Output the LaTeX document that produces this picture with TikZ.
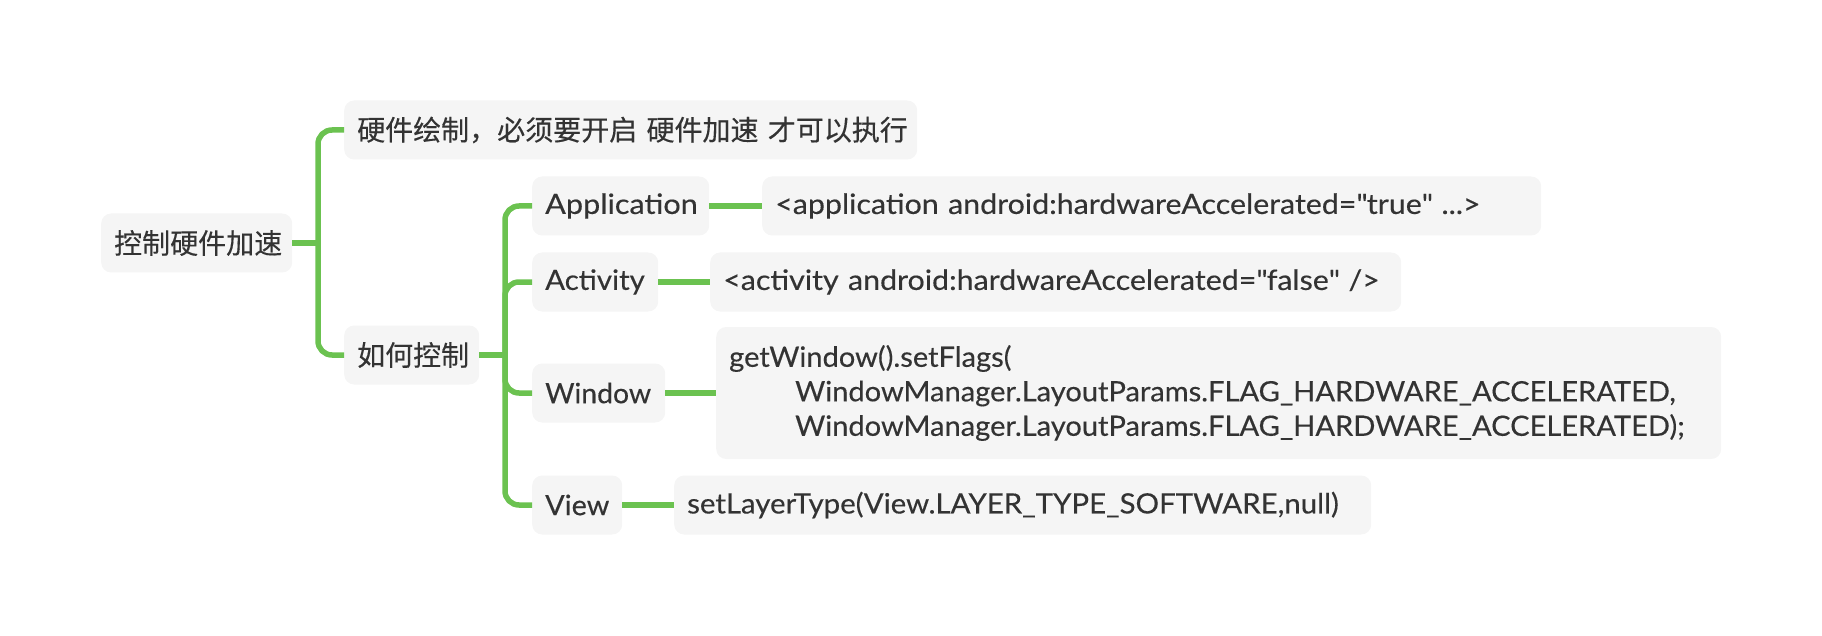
\documentclass[tikz,border=0pt]{standalone}
\usepackage{fontspec}
\setmainfont{Lato}
\newfontfamily\cjk{Noto Sans CJK SC}[FakeBold=0.3]
\newcommand\straightquote{\XeTeXglyph\XeTeXcharglyph"22\relax}
\definecolor{boxfill}{HTML}{F5F5F5}
\definecolor{txt}{HTML}{333333}
\definecolor{conn}{RGB}{107,194,80}
\begin{document}
\begin{tikzpicture}[x=1pt,y=-1pt,
  base/.style={fill=boxfill, rounded corners=10pt, inner xsep=13pt, inner ysep=0pt,
    minimum height=59pt, anchor=west, text=txt, align=left},
  box/.style={base, font={\fontsize{28}{34.5}\selectfont\addfontfeature{FakeStretch=#1,FakeBold=0.3}}},
  box/.default=1.05,
  cjkbox/.style={base, font=\cjk\fontsize{28}{34.5}\selectfont},
  link/.style={draw=conn, line width=5.5pt},
  branch/.style={link, rounded corners=14pt}]
\useasboundingbox (0,0) rectangle (1822,636);
\node[cjkbox, text width=165pt] (root) at (101,243) {控制硬件加速};
\node[cjkbox, text width=547pt] (top) at (344,130) {\makebox[547pt][l]{硬件绘制，必须要开启 硬件加速 才可以执行}};
\node[cjkbox, text width=109pt] (how) at (344,355) {如何控制};
\node[box=1.094, text width=151pt] (app) at (532,206) {Application};
\node[box=1.085, text width=753pt] (appT) at (762,206) {<application android:hardwareAccelerated=\straightquote true\straightquote{} ...>};
\node[box=1.05, text width=100pt] (act) at (532,282) {Activity};
\node[box=1.085, text width=665pt] (actT) at (710,282) {<activity android:hardwareAccelerated=\straightquote false\straightquote{} />};
\node[box=1.013, text width=107pt] (win) at (532,393) {Window};
\node[box=1.038, text width=979pt, minimum height=132pt] (winT) at (716,393) {getWindow().setFlags(\\
\hspace*{66pt}WindowManager.LayoutParams.FLAG\_HARDWARE\_ACCELERATED,\\
\hspace*{66pt}WindowManager.LayoutParams.FLAG\_HARDWARE\_ACCELERATED);};
\node[box=1.03, text width=64pt] (view) at (532,505) {View};
\node[box=1.05, text width=671pt] (viewT) at (674,505) {setLayerType(View.LAYER\_TYPE\_SOFTWARE,null)};
\coordinate (j1) at (318,243);
\coordinate (j2) at (505,355);
\draw[link] (root.east) -- (j1);
\draw[branch] (j1) |- (top.west);
\draw[branch] (j1) |- (how.west);
\draw[link] (how.east) -- (j2);
\draw[branch] (j2) |- (app.west);
\draw[branch] (j2) |- (act.west);
\draw[branch] (j2) |- (win.west);
\draw[branch] (j2) |- (view.west);
\draw[link] (app.east) -- (appT.west);
\draw[link] (act.east) -- (actT.west);
\draw[link] (win.east) -- (winT.west);
\draw[link] (view.east) -- (viewT.west);
\end{tikzpicture}
\end{document}
